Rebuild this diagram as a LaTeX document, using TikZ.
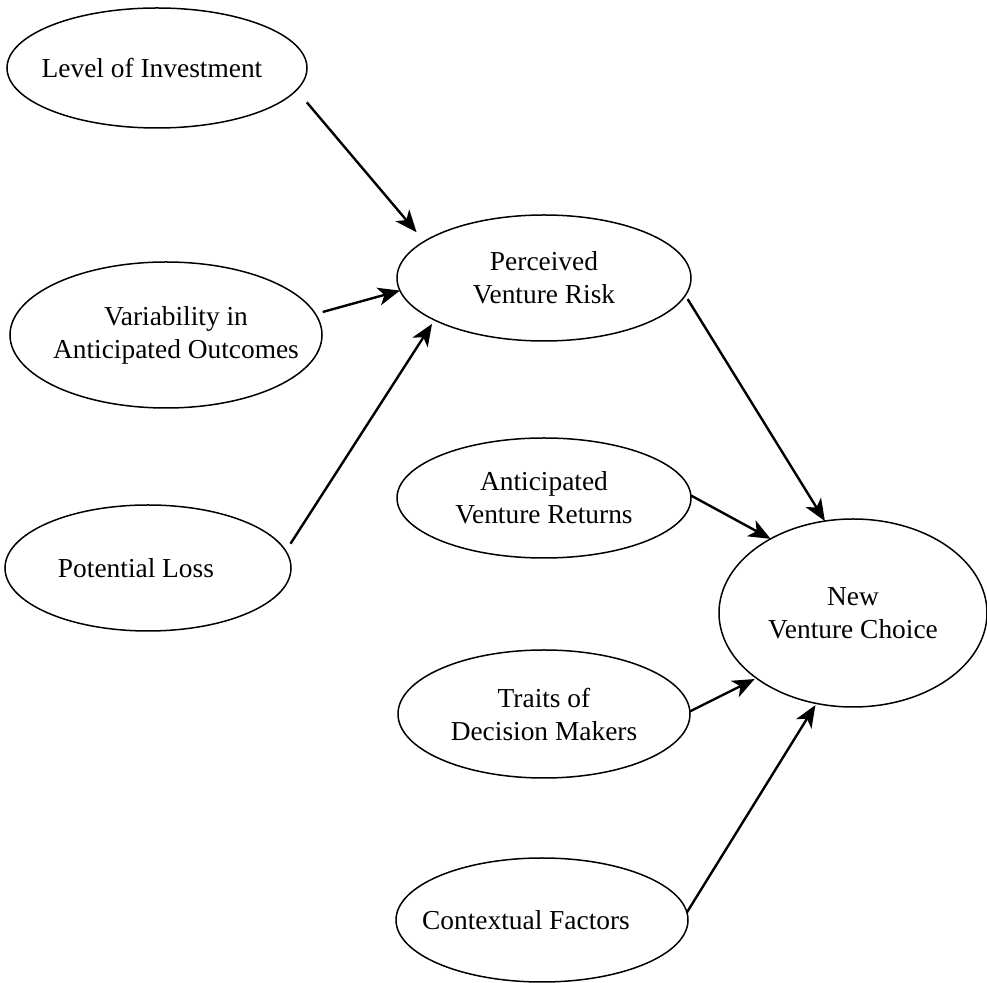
\documentclass[tikz,border=0pt]{standalone}
\usepackage{fontspec}
\setmainfont{Liberation Serif}
\usetikzlibrary{arrows.meta,shapes.geometric}
\begin{document}
\begin{tikzpicture}[x=0.5pt,y=-0.5pt,
    oval/.style={draw,ellipse,line width=0.75pt,inner xsep=-40pt,inner ysep=0pt,outer sep=0pt,align=center,
        font=\fontsize{13.7}{16.5}\selectfont},
    link/.style={line width=1.2pt,-{Stealth[length=11pt,width=9pt,inset=3pt]}}]
    \useasboundingbox (0,0) rectangle (987,983);

    \node [oval,minimum width=150pt,minimum height=60pt] (lvl) at (157,68) {\hspace*{-5pt}Level of Investment};
    \node [oval,minimum width=156pt,minimum height=73pt] (var) at (166,335) {\hspace*{10pt}Variability in\\\hspace*{10pt}Anticipated Outcomes};
    \node [oval,minimum width=143pt,minimum height=63pt] (pl) at (148,568) {\hspace*{-12pt}Potential Loss};
    \node [oval,minimum width=147pt,minimum height=63pt] (risk) at (544,278) {Perceived\\Venture Risk};
    \node [oval,minimum width=147pt,minimum height=60pt] (ret) at (544,498) {Anticipated\\Venture Returns};
    \node [oval,minimum width=134pt,minimum height=94pt] (nvc) at (853,613) {New\\Venture Choice};
    \node [oval,minimum width=146pt,minimum height=64pt] (trait) at (544,714) {Traits of\\Decision Makers};
    \node [oval,minimum width=146pt,minimum height=62pt] (ctx) at (542,920) {\hspace*{-16pt}Contextual Factors};

    \draw [link,shorten <=8pt,shorten >=6pt] (lvl.-9.8) -- (risk.163.6);
    \draw [link,shorten <=3.8pt] (var.8.5) -- (risk.185.2);
    \draw [link,shorten <=4.4pt,shorten >=2.3pt] (pl.7.3) -- (risk.-159.8);
    \draw [link,shorten <=2.2pt] (risk.-7.4) -- (nvc.107.1);
    \draw [link] (ret.1.5) -- (nvc.138.8);
    \draw [link,shorten >=1pt] (trait.1.5) -- (nvc.-146.9);
    \draw [link,shorten >=1pt] (ctx.3.2) -- (nvc.-112.3);
\end{tikzpicture}
\end{document}
